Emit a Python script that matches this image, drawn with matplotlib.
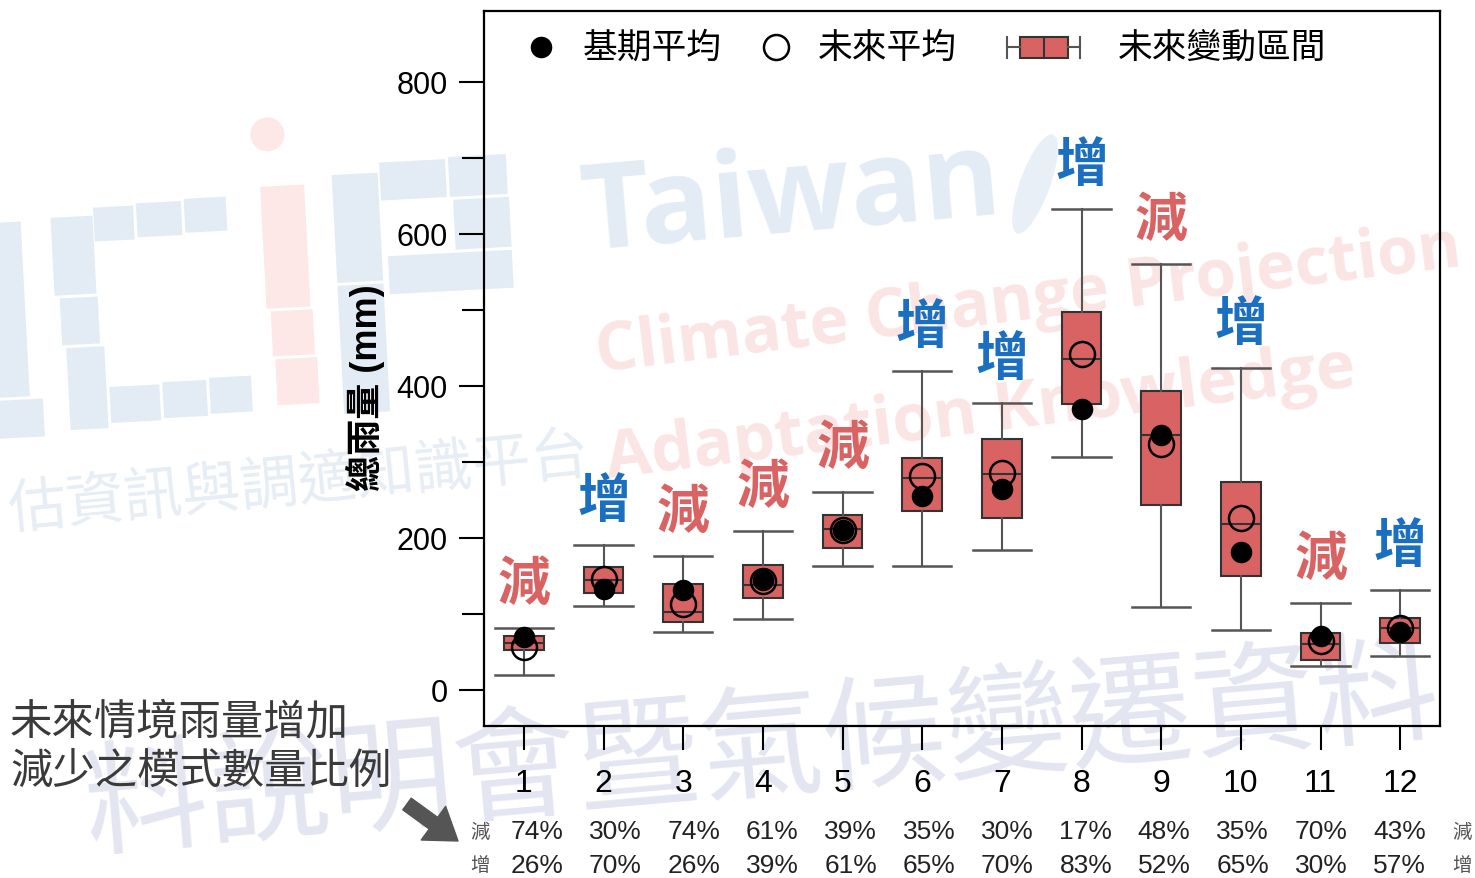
import matplotlib
matplotlib.use("Agg")
import matplotlib.pyplot as plt
from matplotlib import transforms
from matplotlib.patches import Rectangle, Circle, Ellipse

plt.rcParams['font.family'] = ['Liberation Sans', 'Noto Sans CJK TC']

# ---- data -------------------------------------------------------------
months = list(range(1, 13))
month_labels = [str(m) for m in months]

whisker_high = [82, 191, 176, 209, 260, 420, 378, 633, 560, 424, 114, 132]
box_q3       = [71, 162, 139, 165, 230, 305, 330, 497, 393, 274, 75, 95]
box_median   = [62, 145, 103, 138, 212, 279, 284, 436, 335, 218, 61, 82]
box_q1       = [53, 128, 90, 121, 187, 236, 226, 376, 243, 150, 40, 62]
whisker_low  = [20, 110, 76, 94, 163, 163, 184, 307, 109, 79, 31, 45]

base_mean   = [70, 133, 132, 145, 211, 255, 264, 370, 336, 181, 71, 76]
future_mean = [57, 146, 113, 143, 210, 282, 285, 442, 324, 226, 64, 81]

trend = ['減', '增', '減', '減', '減', '增', '增', '增', '減', '增', '減', '增']
pct_decrease = [74, 30, 74, 61, 39, 35, 30, 17, 48, 35, 70, 43]
pct_increase = [26, 70, 26, 39, 61, 65, 70, 83, 52, 65, 30, 57]

yticks_major = [0, 200, 400, 600, 800]
yticks_minor = [100, 300, 500, 700]

BOX_RED = '#d96363'
UP_BLUE = '#1a6fc0'
CJK = 'Noto Sans CJK TC'

# ---- figure -----------------------------------------------------------
W, H = 1475, 879
fig = plt.figure(figsize=(W / 100, H / 100), dpi=100)
fig.patch.set_facecolor('white')

# transform for pixel positions measured from the top-left corner
top_px = transforms.Affine2D().scale(1 / W, -1 / H).translate(0, 1) + fig.transFigure

# ---- background watermark -------------------------------------------
logo_tr = (transforms.Affine2D().scale(1, -1).translate(0, H)
           .rotate_deg_around(260, H - 300, 3)
           .scale(1 / W, 1 / H) + fig.transFigure)
LOGO_BLUE = '#e3ecf4'
LOGO_PINK = '#fde7e7'
blue_blocks = [
    (-10, 210, 35, 175), (-10, 388, 48, 38),
    (55, 208, 42, 78), (60, 289, 38, 47), (64, 339, 38, 82),
    (98, 200, 40, 34), (141, 198, 45, 34), (189, 196, 42, 34),
    (105, 380, 50, 36), (158, 378, 44, 36), (205, 376, 42, 36),
    (338, 180, 46, 108), (338, 291, 46, 128),
    (386, 170, 66, 38), (455, 168, 58, 40),
    (458, 211, 56, 50), (390, 264, 124, 38),
]
pink_blocks = [(266, 188, 44, 122), (270, 313, 42, 45), (272, 361, 42, 46)]
for x0, y0, w, h in blue_blocks:
    fig.add_artist(Rectangle((x0, y0), w, h, transform=logo_tr,
                             facecolor=LOGO_BLUE, edgecolor='none', zorder=-10))
for x0, y0, w, h in pink_blocks:
    fig.add_artist(Rectangle((x0, y0), w, h, transform=logo_tr,
                             facecolor=LOGO_PINK, edgecolor='none', zorder=-10))
fig.add_artist(Circle((276, 136), 17, transform=logo_tr,
                      facecolor=LOGO_PINK, edgecolor='none', zorder=-10))
fig.add_artist(Ellipse((1035, 185), 30, 105, angle=20, transform=top_px,
                       facecolor='#e8eff6', edgecolor='none', zorder=-10))


def watermark(x, y, s, size, color, rot, family, weight='bold'):
    fig.text(x / W, 1 - y / H, s, fontsize=size, color=color, rotation=rot,
             rotation_mode='anchor', ha='left', va='baseline',
             family=family, fontweight=weight, zorder=-9)


watermark(585, 250, 'Taiwan', 86, '#e3ecf5', 5, 'Open Sans')
watermark(598, 372, 'Climate Change Projection', 47.5, '#fbe4e4', 7, 'Open Sans')
watermark(608, 478, 'Adaptation Knowledge', 48, '#fbe4e4', 7, 'Open Sans')
watermark(10, 528, '估資訊與調適知識平台', 42, '#e6edf4', 5.5, CJK, 'light')
watermark(88, 846, '料說明會暨氣候變遷資料', 89, '#e3e6f1', 5, CJK, 'medium')

# ---- axes -------------------------------------------------------------
ax = fig.add_axes([484 / W, 1 - 727 / H, 956 / W, 715 / H])
ax.set_facecolor('none')

stats = [dict(med=md, q1=a, q3=b, whislo=lo, whishi=hi, fliers=[], label=lab)
         for md, a, b, lo, hi, lab in zip(box_median, box_q1, box_q3,
                                          whisker_low, whisker_high, month_labels)]
ax.bxp(stats, positions=months, widths=0.5, capwidths=0.73, patch_artist=True,
       showfliers=False,
       boxprops=dict(facecolor=BOX_RED, edgecolor='#333333', linewidth=1.5),
       medianprops=dict(color='#333333', linewidth=1.5),
       whiskerprops=dict(color='#555555', linewidth=1.5),
       capprops=dict(color='#555555', linewidth=1.8))

ax.plot(months, future_mean, 'o', ms=18, mfc='none', mec='black', mew=1.8, zorder=4)
ax.plot(months, base_mean, 'o', ms=15.5, color='black', mew=0, zorder=5)

for m, hi, t in zip(months, whisker_high, trend):
    ax.annotate(t, (m, hi), xytext=(0, 32), textcoords='offset points',
                ha='center', va='center', fontsize=38, fontweight='bold',
                family=CJK, color=UP_BLUE if t == '增' else BOX_RED, zorder=6)

ax.set_xlim(0.5, 12.5)
ax.set_ylim(-47.4, 893.4)
ax.set_xticks(months)
ax.set_xticklabels(month_labels)
ax.set_yticks(yticks_major)
ax.set_yticks(yticks_minor, minor=True)
ax.tick_params(axis='y', which='major', direction='out', length=18, width=1.5,
               labelsize=22, pad=8)
ax.tick_params(axis='y', which='minor', direction='out', length=16, width=1.5)
ax.tick_params(axis='x', direction='out', length=17, width=1.5, labelsize=23, pad=13)
for sp in ax.spines.values():
    sp.set_linewidth(1.6)

ax.set_ylabel('總雨量 (mm)', fontsize=26, fontweight='bold')
ax.yaxis.set_label_coords(-0.104, 0.474)

# ---- legend drawn in axes coordinates --------------------------------
ly = 0.949
ta = ax.transAxes
ax.plot([0.0596], [ly], 'o', ms=15.5, color='black', mew=0, transform=ta, clip_on=False)
ax.text(0.1036, ly, '基期平均', transform=ta, fontsize=25, va='center', ha='left',
        family=CJK, fontweight='medium')
ax.plot([0.3054], [ly], 'o', ms=18, mfc='none', mec='black', mew=1.8, transform=ta, clip_on=False)
ax.text(0.3494, ly, '未來平均', transform=ta, fontsize=25, va='center', ha='left',
        family=CJK, fontweight='medium')
bh = 0.0145
ax.plot([0.5471, 0.5607], [ly, ly], color='#555555', lw=1.5, transform=ta)
ax.plot([0.6109, 0.6234], [ly, ly], color='#555555', lw=1.5, transform=ta)
ax.plot([0.5471, 0.5471], [ly - bh, ly + bh], color='#555555', lw=1.5, transform=ta)
ax.plot([0.6234, 0.6234], [ly - bh, ly + bh], color='#555555', lw=1.5, transform=ta)
ax.add_patch(Rectangle((0.5607, ly - bh), 0.0502, 2 * bh, transform=ta,
                       facecolor=BOX_RED, edgecolor='#333333', lw=1.5))
ax.plot([0.5858, 0.5858], [ly - bh, ly + bh], color='#333333', lw=1.5, transform=ta)
ax.text(0.6632, ly, '未來變動區間', transform=ta, fontsize=25, va='center', ha='left',
        family=CJK, fontweight='medium')

# ---- model-count percentages under the axis ---------------------------
bt = transforms.blended_transform_factory(ax.transData, fig.transFigure)
row_dec_y = 1 - 832 / H
row_inc_y = 1 - 866 / H
for i, (d, u) in enumerate(zip(pct_decrease, pct_increase)):
    xc = 1.163 + i * 0.9844
    ax.text(xc, row_dec_y, f'{d}%', transform=bt, ha='center', va='center',
            fontsize=19, color='#222222')
    ax.text(xc, row_inc_y, f'{u}%', transform=bt, ha='center', va='center',
            fontsize=19, color='#222222')
for xs in (0.455, 12.78):
    ax.text(xs, row_dec_y, '減', transform=bt, ha='center', va='center',
            fontsize=14, color='#555555', family=CJK)
    ax.text(xs, row_inc_y, '增', transform=bt, ha='center', va='center',
            fontsize=14, color='#555555', family=CJK)

fig.text(10 / W, 1 - 722 / H, '未來情境雨量增加', fontsize=30.5, ha='left', va='center',
         family=CJK, fontweight='light', color='#3a3a3a')
fig.text(10 / W, 1 - 772 / H, '減少之模式數量比例', fontsize=30.5, ha='left', va='center',
         family=CJK, fontweight='light', color='#3a3a3a')

ax.annotate('', xy=(458, 842), xytext=(407, 805), xycoords=top_px, textcoords=top_px,
            annotation_clip=False,
            arrowprops=dict(arrowstyle='simple,head_length=0.95,head_width=1.3,tail_width=0.45',
                            color='#555555', mutation_scale=23, shrinkA=0, shrinkB=0))

fig.savefig('out.png', dpi=100)
